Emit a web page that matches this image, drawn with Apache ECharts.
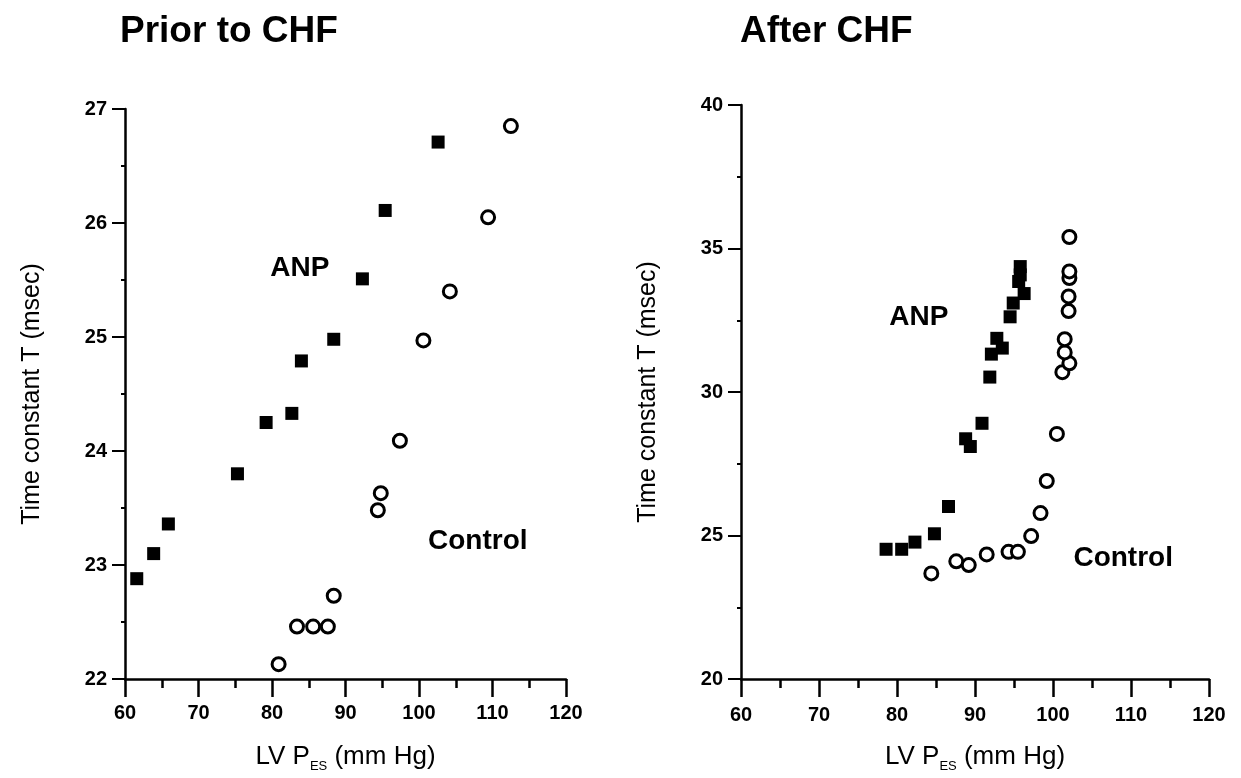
<!DOCTYPE html>
<html>
<head>
<meta charset="utf-8">
<script src="https://cdn.jsdelivr.net/npm/echarts@6/dist/echarts.min.js"></script>
<style>
  html, body { margin: 0; background: #fff; }
  #chart { width: 1241px; height: 778px; }
</style>
</head>
<body>
<div id="chart"></div>
<script>
// Prior to CHF
const priorAnpX = [61.6, 63.9, 65.9, 75.3, 79.2, 82.7, 84.0, 88.4, 92.3, 95.4, 102.6];
const priorAnpY = [22.88, 23.10, 23.36, 23.80, 24.25, 24.33, 24.79, 24.98, 25.51, 26.11, 26.71];
const priorCtrlX = [80.9, 83.4, 85.6, 87.6, 88.4, 94.4, 94.8, 97.4, 100.6, 104.2, 109.4, 112.5];
const priorCtrlY = [22.13, 22.46, 22.46, 22.46, 22.73, 23.48, 23.63, 24.09, 24.97, 25.40, 26.05, 26.85];

// After CHF
const afterAnpX = [78.6, 80.6, 82.3, 84.8, 86.6, 88.8, 89.4, 90.9, 91.9, 92.1, 92.8, 93.5, 94.5, 94.9, 95.6, 95.8, 95.8, 96.3];
const afterAnpY = [24.52, 24.52, 24.77, 25.06, 26.01, 28.37, 28.10, 28.91, 30.52, 31.32, 31.87, 31.53, 32.62, 33.10, 33.85, 34.08, 34.37, 33.43];
const afterCtrlX = [84.4, 87.6, 89.2, 91.5, 94.3, 95.5, 97.2, 98.4, 99.2, 100.5, 101.2, 102.1, 101.5, 101.5, 102.0, 102.0, 102.1, 102.1, 102.1];
const afterCtrlY = [23.68, 24.10, 23.97, 24.34, 24.43, 24.43, 24.98, 25.78, 26.90, 28.54, 30.69, 31.00, 31.38, 31.84, 32.82, 33.33, 33.97, 34.20, 35.40];

// group labels [text, x, y]
const priorNotes = [['ANP', 83.8, 25.6], ['Control', 108.0, 23.21]];
const afterNotes = [['ANP', 82.8, 32.59], ['Control', 109.0, 24.2]];

const xTicks = { min: 60, max: 120, interval: 10 };
const priorYTicks = { min: 22, max: 27, interval: 1 };
const afterYTicks = { min: 20, max: 40, interval: 5 };

const FONT = '"Liberation Sans", Arial, sans-serif';

function pairs(xs, ys) {
  return xs.map((x, i) => [x, ys[i]]);
}

function xAxis(gridIndex, labelMargin) {
  return {
    type: 'value',
    gridIndex,
    min: xTicks.min,
    max: xTicks.max,
    interval: xTicks.interval,
    name: 'LV P{sub|ES} (mm Hg)',
    nameLocation: 'middle',
    nameGap: 62,
    nameTextStyle: {
      color: '#000',
      fontFamily: FONT,
      fontSize: 26,
      lineHeight: 32,
      rich: {
        sub: { fontSize: 13, fontFamily: FONT, color: '#000', verticalAlign: 'bottom', lineHeight: 14 },
      },
    },
    axisLine: { onZero: false, lineStyle: { color: '#000', width: 2.5 } },
    axisTick: { length: 18, lineStyle: { color: '#000', width: 2.5 } },
    minorTick: { show: true, splitNumber: 2, length: 9, lineStyle: { color: '#000', width: 2.5 } },
    splitLine: { show: false },
    axisLabel: { color: '#000', fontFamily: FONT, fontSize: 20, fontWeight: 'bold', margin: labelMargin },
  };
}

function yAxis(gridIndex, ticks, minorSplit) {
  return {
    type: 'value',
    gridIndex,
    min: ticks.min,
    max: ticks.max,
    interval: ticks.interval,
    name: 'Time constant T (msec)',
    nameLocation: 'middle',
    nameGap: 80,
    nameTextStyle: { color: '#000', fontFamily: FONT, fontSize: 25 },
    axisLine: { onZero: false, lineStyle: { color: '#000', width: 2.5 } },
    axisTick: { length: 13, lineStyle: { color: '#000', width: 2 } },
    minorTick: { show: true, splitNumber: minorSplit, length: 4, lineStyle: { color: '#000', width: 2 } },
    splitLine: { show: false },
    axisLabel: { color: '#000', fontFamily: FONT, fontSize: 20, fontWeight: 'bold', margin: 18 },
  };
}

function squares(idx, xs, ys) {
  return {
    type: 'scatter',
    xAxisIndex: idx,
    yAxisIndex: idx,
    symbol: 'rect',
    symbolSize: 13,
    itemStyle: { color: '#000', opacity: 1 },
    data: pairs(xs, ys),
    silent: true,
  };
}

function circles(idx, xs, ys) {
  return {
    type: 'scatter',
    xAxisIndex: idx,
    yAxisIndex: idx,
    symbol: 'circle',
    symbolSize: 13,
    itemStyle: { color: '#fff', borderColor: '#000', borderWidth: 3, opacity: 1 },
    data: pairs(xs, ys),
    silent: true,
  };
}

function notes(idx, list) {
  return {
    type: 'scatter',
    xAxisIndex: idx,
    yAxisIndex: idx,
    symbolSize: 0,
    silent: true,
    itemStyle: { opacity: 1 },
    data: list.map((n) => ({ value: [n[1], n[2]], name: n[0] })),
    label: {
      show: true,
      position: 'inside',
      formatter: (p) => p.name,
      color: '#000',
      fontFamily: FONT,
      fontWeight: 'bold',
      fontSize: 28,
    },
  };
}

const chart = echarts.init(document.getElementById('chart'), null, { renderer: 'canvas' });

chart.setOption({
  animation: false,
  backgroundColor: '#fff',
  title: [
    { text: 'Prior to CHF', left: 115, top: 8, textStyle: { color: '#000', fontFamily: FONT, fontWeight: 'bold', fontSize: 37 } },
    { text: 'After CHF', left: 735, top: 8, textStyle: { color: '#000', fontFamily: FONT, fontWeight: 'bold', fontSize: 37 } },
  ],
  grid: [
    { left: 125, top: 109, width: 441, height: 571 },
    { left: 741, top: 105, width: 468, height: 579 },
  ],
  xAxis: [xAxis(0, 24), xAxis(1, 26)],
  yAxis: [yAxis(0, priorYTicks, 2), yAxis(1, afterYTicks, 2)],
  series: [
    squares(0, priorAnpX, priorAnpY),
    circles(0, priorCtrlX, priorCtrlY),
    squares(1, afterAnpX, afterAnpY),
    circles(1, afterCtrlX, afterCtrlY),
    notes(0, priorNotes),
    notes(1, afterNotes),
  ],
});
</script>
</body>
</html>
